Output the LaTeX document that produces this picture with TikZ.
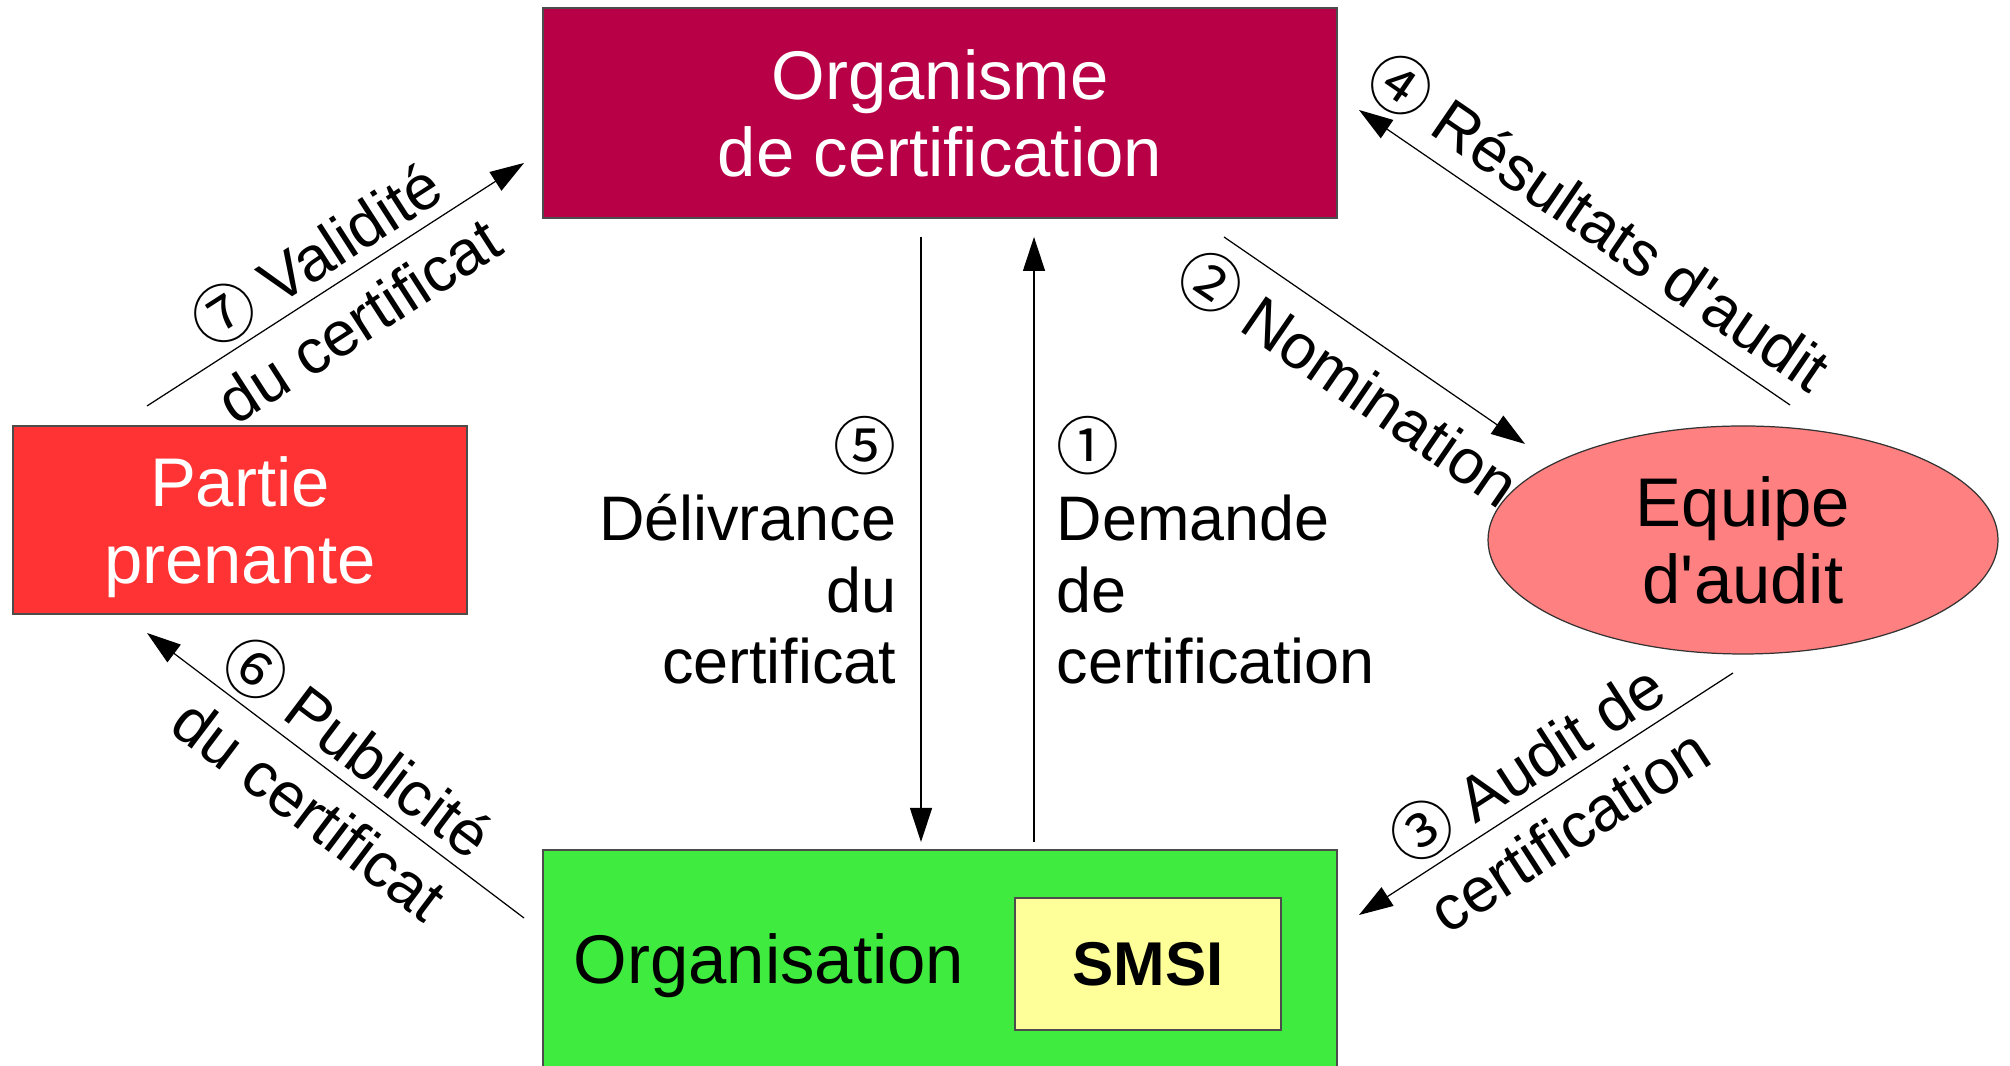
\documentclass[tikz,border=0pt]{standalone}
\usepackage{fontspec}
\setmainfont{Liberation Sans}
\newfontfamily\cfont{Noto Sans CJK SC}
\usetikzlibrary{arrows.meta,shapes.geometric}
\definecolor{bordeaux}{RGB}{184,0,70}
\definecolor{rouge}{RGB}{255,51,51}
\definecolor{saumon}{RGB}{255,128,128}
\definecolor{vert}{RGB}{64,235,64}
\definecolor{jaune}{RGB}{255,255,153}
% circled step numbers come from a font that has them
\newcommand\cn[1]{{\cfont #1}}
\tikzset{
  bx/.style={rectangle,draw=black!70,line width=.35pt,inner sep=0pt,align=center,
             font=\fontsize{19.6}{21.9}\selectfont},
  ell/.style={ellipse,draw=black!80,line width=.35pt,inner sep=0pt,align=center,
              font=\fontsize{19.6}{21.9}\selectfont},
  fl/.style={-{Triangle[length=3.4mm,width=2.2mm]},line width=.35pt,draw=black},
  lb/.style={font=\fontsize{17.9}{20.3}\selectfont,inner sep=0pt},
  lbd/.style={font=\fontsize{17.9}{22.2}\selectfont,align=center,sloped},
}

\begin{document}
\begin{tikzpicture}
\useasboundingbox (0,0) rectangle (20.10,10.66);
% the parties
\node[bx,fill=bordeaux,text=white,minimum width=7.94cm,minimum height=2.10cm]
  (cert) at (9.40,9.53) {Organisme\\de certification};
\node[bx,fill=rouge,text=white,minimum width=4.54cm,minimum height=1.88cm,text depth=0pt]
  (partie) at (2.40,5.46) {Partie\\prenante};
\node[ell,fill=saumon,minimum width=5.10cm,minimum height=2.28cm]
  (equipe) at (17.43,5.26) {Equipe\\d\textquotesingle audit};
\node[bx,fill=vert,minimum width=7.94cm,minimum height=2.26cm] (orga) at (9.40,1.03) {};
\node[bx,draw=none,anchor=base west] (orgtxt) at (5.73,0.82) {Organisation};
\node[bx,fill=jaune,minimum width=2.66cm,minimum height=1.32cm,
      font=\fontsize{17.6}{20}\selectfont\bfseries] (smsi) at (11.48,1.02) {SMSI};

% ends of the flows
\coordinate (s1a) at (10.34,2.24);  \coordinate (s1b) at (10.34,8.29);
\coordinate (s2a) at (12.24,8.29);  \coordinate (s2b) at (15.25,6.22);
\coordinate (s3a) at (17.33,3.93);  \coordinate (s3b) at (13.59,1.51);
\coordinate (s4a) at (17.90,6.61);  \coordinate (s4b) at (13.59,9.56);
\coordinate (s5a) at (9.21,8.29);   \coordinate (s5b) at (9.21,2.24);
\coordinate (s6a) at (5.24,1.48);   \coordinate (s6b) at (1.47,4.33);
\coordinate (s7a) at (1.47,6.60);   \coordinate (s7b) at (5.24,9.03);

% vertical flows between the organisation and the certifier
\draw[fl] (s1a) -- (s1b);
\node[lb,anchor=south west,align=left] (l1) at (10.56,3.81)
  {\cn{①}\\Demande\\de\\certification};
\draw[fl] (s5a) -- (s5b);
\node[lb,anchor=south east,align=right] (l5) at (8.97,3.81)
  {\cn{⑤}\\Délivrance\\du\\certificat};

% diagonal flows
\draw[fl] (s2a) -- (s2b) node[lbd,midway,below,inner sep=1.5mm] (l2) {\cn{②} Nomination};
\draw[fl] (s3a) -- (s3b) node[lbd,midway] (l3) {\cn{③} Audit de\\certification};
\draw[fl] (s4a) -- (s4b) node[lbd,midway,above,inner sep=1.4mm] (l4) {\cn{④} Résultats d\textquotesingle audit};
\draw[fl] (s6a) -- (s6b) node[lbd,midway] (l6) {\cn{⑥} Publicité\\du certificat};
\draw[fl] (s7a) -- (s7b) node[lbd,midway] (l7) {\cn{⑦} Validité\\du certificat};
\end{tikzpicture}
\end{document}
